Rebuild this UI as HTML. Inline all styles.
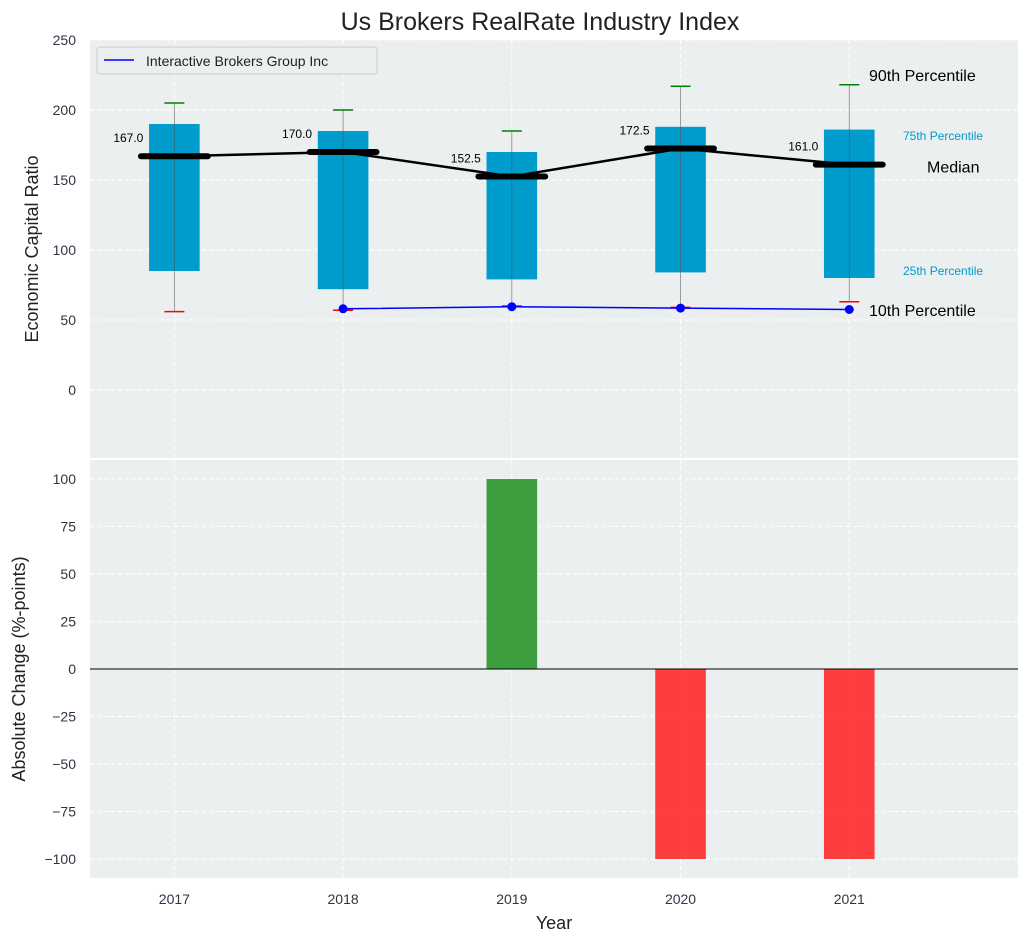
<!DOCTYPE html>
<html><head><meta charset="utf-8"><style>
body{margin:0;background:#fff;font-family:"Liberation Sans","DejaVu Sans",sans-serif}
</style></head><body>
<svg id="c" width="1029" height="942" xmlns="http://www.w3.org/2000/svg"></svg>
<script>
const years=[2017,2018,2019,2020,2021];
const p10=[56,57,60,59,63];
const p25=[85,72,79,84,80];
const med=[167,170,152.5,172.5,161];
const p75=[190,185,170,188,186];
const p90=[205,200,185,217,218];
const company=[null,58,59.5,58.5,57.5];
const change=[0,0,100,-100,-100];
const topTicks=[0,50,100,150,200,250];
const botTicks=[-100,-75,-50,-25,0,25,50,75,100];

const S=document.getElementById('c');const NS='http://www.w3.org/2000/svg';
function el(t,a,txt){const e=document.createElementNS(NS,t);for(const k in a)e.setAttribute(k,a[k]);if(txt!=null)e.textContent=txt;S.appendChild(e);return e;}
const L=90,R=1018;
const x=v=>L+(v-2016.5)/(2022-2016.5)*(R-L);
const T0=40,T1=458,yT=v=>390-(v)*1.4;
const B0=460,B1=878,yB=v=>669-v*1.9;

let e=el('text',{x:540,y:30,'font-size':25,'text-anchor':'middle',fill:'#222'},'Us Brokers RealRate Industry Index');

e=el('rect',{x:L,y:T0,width:R-L,height:T1-T0,fill:'#ebeff0'});

e=el('rect',{x:L,y:B0,width:R-L,height:B1-B0,fill:'#ebeff0'});

years.forEach(yr=>{
 el('line',{x1:x(yr),x2:x(yr),y1:T0,y2:T1,stroke:'#fff','stroke-dasharray':'4,3','stroke-width':1});
 el('line',{x1:x(yr),x2:x(yr),y1:B0,y2:B1,stroke:'#fff','stroke-dasharray':'4,3','stroke-width':1});
 e=el('text',{x:x(yr),y:904,'font-size':14,'text-anchor':'middle',fill:'#334'},yr);
 
});
topTicks.forEach(t=>{
 el('line',{x1:L,x2:R,y1:yT(t),y2:yT(t),stroke:'#fff','stroke-dasharray':'4,3'});
 e=el('text',{x:76,y:yT(t)+5,'font-size':14,'text-anchor':'end',fill:'#334'},t);
 
});
botTicks.forEach(t=>{
 el('line',{x1:L,x2:R,y1:yB(t),y2:yB(t),stroke:'#fff','stroke-dasharray':'4,3'});
 e=el('text',{x:76,y:yB(t)+5,'font-size':14,'text-anchor':'end',fill:'#334'},t===0?'0':String(t).replace('-','\u2212'));
 
});
const bw=(R-L)/5.5*0.3;
years.forEach((yr,i)=>{
 const cx=x(yr);
 e=el('rect',{x:cx-bw/2,y:yT(p75[i]),width:bw,height:yT(p25[i])-yT(p75[i]),fill:'#009ccc'});
 
 el('line',{x1:cx,x2:cx,y1:yT(p90[i]),y2:yT(p10[i]),stroke:'#555','stroke-width':0.8,opacity:0.7});
 el('line',{x1:cx-10,x2:cx+10,y1:yT(p90[i]),y2:yT(p90[i]),stroke:'green','stroke-width':1.5});
 el('line',{x1:cx-10,x2:cx+10,y1:yT(p10[i]),y2:yT(p10[i]),stroke:'red','stroke-width':1.5});
 e=el('line',{x1:cx-bw*0.66,x2:cx+bw*0.66,y1:yT(med[i]),y2:yT(med[i]),stroke:'#000','stroke-width':6,'stroke-linecap':'round'});
 
 e=el('text',{x:cx-31,y:yT(med[i])-14,'font-size':12,'text-anchor':'end',fill:'#000'},med[i].toFixed(1));
 
});
e=el('polyline',{points:years.map((yr,i)=>x(yr)+','+yT(med[i])).join(' '),fill:'none',stroke:'#000','stroke-width':2.5});

const cp=years.map((yr,i)=>company[i]==null?null:[x(yr),yT(company[i])]).filter(p=>p);
e=el('polyline',{points:cp.map(p=>p.join(',')).join(' '),fill:'none',stroke:'#00f','stroke-width':1.5});

cp.forEach(p=>{e=el('circle',{cx:p[0],cy:p[1],r:4.5,fill:'#00f'});});
[['90th Percentile',869,yT(p90[4])-4],['Median',927,yT(med[4])+8],['10th Percentile',869,yT(p10[4])+14]].forEach(a=>{
 e=el('text',{x:a[1],y:a[2],'font-size':16,fill:'#000'},a[0]);});
e=el('text',{x:903,y:140,'font-size':12,fill:'#009ccc'},'75th Percentile');
e=el('text',{x:903,y:275,'font-size':12,fill:'#009ccc'},'25th Percentile');
// legend
e=el('rect',{x:97,y:47,width:280,height:27,fill:'#ebeff0',stroke:'#ccc',rx:3});
el('line',{x1:104,x2:134,y1:60,y2:60,stroke:'#00f','stroke-width':1.5});
e=el('text',{x:146,y:66,'font-size':14,fill:'#222'},'Interactive Brokers Group Inc');
// bottom bars
years.forEach((yr,i)=>{
 if(!change[i])return;
 const y0=yB(0),y1=yB(change[i]);
 e=el('rect',{x:x(yr)-bw/2,y:Math.min(y0,y1),width:bw,height:Math.abs(y1-y0),fill:change[i]>0?'#2a952a':'#ff2a2a',opacity:0.9});
 
});
el('line',{x1:L,x2:R,y1:yB(0),y2:yB(0),stroke:'#000','stroke-width':1});
e=el('text',{x:0,y:0,'font-size':18,'text-anchor':'middle',fill:'#222',transform:'translate(38,249) rotate(-90)'},'Economic Capital Ratio');

e=el('text',{x:0,y:0,'font-size':18,'text-anchor':'middle',fill:'#222',transform:'translate(25,669) rotate(-90)'},'Absolute Change (%-points)');

e=el('text',{x:554,y:929,'font-size':18,'text-anchor':'middle',fill:'#222'},'Year');

</script>
</body></html>
